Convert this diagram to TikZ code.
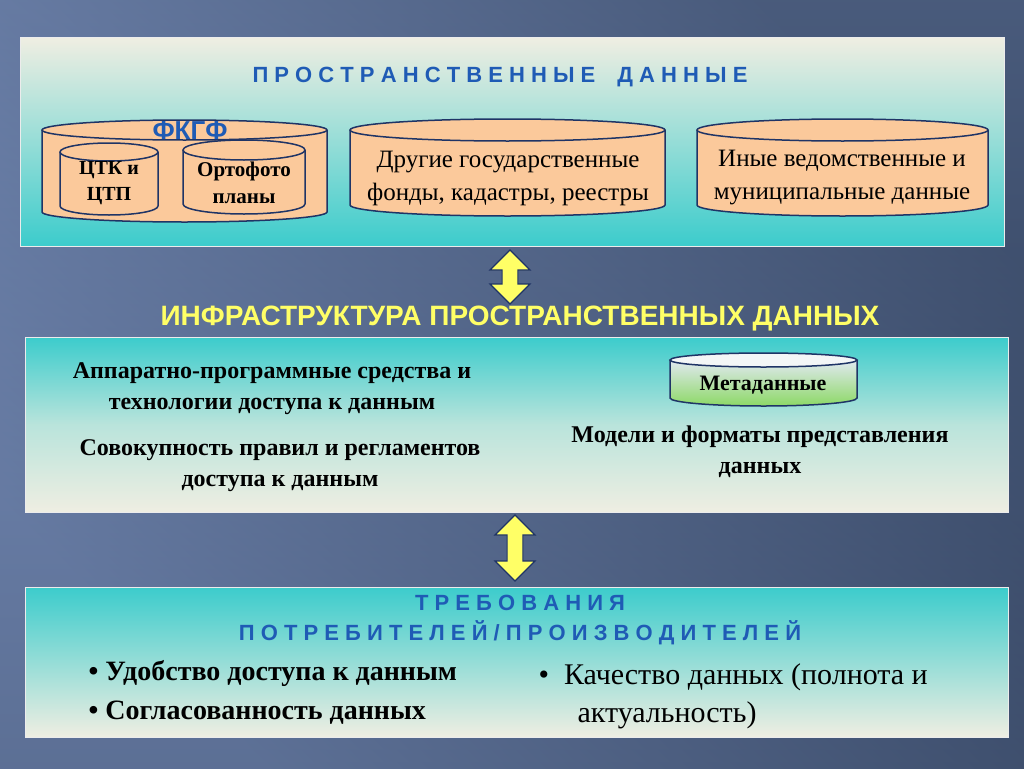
\documentclass[tikz,border=0pt]{standalone}
\usepackage{fontspec}
\setmainfont{Liberation Serif}
\newfontfamily\sans{Liberation Sans}
\usetikzlibrary{shapes.arrows}
\definecolor{bgA}{HTML}{8DA5D6}\definecolor{bgB}{HTML}{2C3B55}
\definecolor{cyanP}{HTML}{3CCCCC}\definecolor{beige}{HTML}{EFEEE2}
\definecolor{peach}{HTML}{FBC99B}\definecolor{edge}{HTML}{1F3466}
\definecolor{ttl}{HTML}{1F5BB5}\definecolor{ylw}{HTML}{FFFF66}
\tikzset{
 panel/.style={draw=white!85!gray,line width=1pt},
 t/.style={align=center},
 tb/.style={align=center,font=\fontsize{22}{28}\selectfont\bfseries},
 dbl/.style={double arrow,draw=edge,line width=1.2pt,fill=ylw,minimum height=54pt,minimum width=40pt,double arrow head extend=4pt,inner sep=2pt,rotate=90}
}
\newcommand{\cyl}[6]{% x1,x2,ytop,ybot,ry,name
 \fill[#6] (#1,#3) -- (#1,#4) arc[start angle=180,end angle=0,x radius={(#2-#1)/2},y radius=#5] -- (#2,#3) -- cycle;
 \draw[edge,line width=1.5pt] (#1,#3) -- (#1,#4) arc[start angle=180,end angle=0,x radius={(#2-#1)/2},y radius=#5] -- (#2,#3);
 \draw[edge,line width=1.5pt,fill=peach] ({(#1+#2)/2},#3) ellipse[x radius={(#2-#1)/2},y radius=#5];
}
\begin{document}
\begin{tikzpicture}[x=1pt,y=-1pt]
\useasboundingbox (0,0) rectangle (1024,768);
\shade[left color=bgA,right color=bgB,shading angle=135] (0,0) rectangle (1024,768);
\shade[top color=bgA!60!bgB,bottom color=bgB,opacity=0.5] (0,0) rectangle (1024,768);
% panels
\shade[top color=beige,bottom color=cyanP] (20,38) rectangle (1004,246);
\draw[panel] (20,38) rectangle (1004,246);
\shade[top color=cyanP,bottom color=beige,middle color=beige!70!cyanP] (25,337) rectangle (1008,512);
\draw[panel] (25,337) rectangle (1008,512);
\shade[top color=cyanP,bottom color=beige] (25,587) rectangle (1008,737);
\draw[panel] (25,587) rectangle (1008,737);
\node[font=\sans\bfseries\fontsize{22}{26}\selectfont,text=ttl] (title) at (500,77) {П\;Р\;О\;С\;Т\;Р\;А\;Н\;С\;Т\;В\;Е\;Н\;Н\;Ы\;Е\quad Д\;А\;Н\;Н\;Ы\;Е};
% cylinders
\cyl{42}{327}{130}{212}{10}{fill=peach}
\node[font=\sans\bfseries\fontsize{26}{28}\selectfont,text=ttl] (fkgf) at (190,131) {ФКГФ};
\cyl{60}{158}{152}{206}{9}{fill=peach}
\node[tb,font=\fontsize{20}{26}\selectfont\bfseries] (ctk) at (109,183) {ЦТК и\\ЦТП};
\cyl{183}{305}{150}{204}{10}{fill=peach}
\node[tb,font=\fontsize{21}{27}\selectfont\bfseries] (orto) at (244,183) {Ортофото\\планы};
\cyl{350}{665}{130}{205}{11}{fill=peach}
\node[t,font=\fontsize{25}{33}\selectfont] (drug) at (508,178) {Другие государственные\\фонды, кадастры, реестры};
\cyl{697}{988}{130}{205}{11}{fill=peach}
\node[t,font=\fontsize{25}{33}\selectfont] (inye) at (842,178) {Иные ведомственные и\\муниципальные данные};
% arrows
\node[dbl] (a1) at (510,277) {};
\node[dbl,minimum height=66pt] (a2) at (515,548) {};
\node[font=\sans\bfseries\fontsize{28}{32}\selectfont,text=ylw] (isd) at (520,319) {ИНФРАСТРУКТУРА ПРОСТРАНСТВЕННЫХ ДАННЫХ};
% middle
\shade[top color=beige!60!ttl!30,bottom color=green!50!olive!60] (670,360) rectangle (857,398) arc[start angle=0,end angle=180,x radius=93.5,y radius=8] -- cycle;
\draw[edge,line width=1.5pt] (670,360) -- (670,398) arc[start angle=180,end angle=0,x radius=93.5,y radius=8] -- (857,360);
\draw[edge,line width=1.5pt,fill=beige!80!ttl!20] (763.5,360) ellipse[x radius=93.5,y radius=7];
\node[tb] (meta) at (763,385) {Метаданные};
\node[tb,font=\fontsize{24}{31}\selectfont\bfseries] (app) at (272,389) {Аппаратно-программные средства и\\технологии доступа к данным};
\node[tb,font=\fontsize{24}{31}\selectfont\bfseries] (sov) at (280,466) {Совокупность правил и регламентов\\доступа к данным};
\node[tb,font=\fontsize{24}{31}\selectfont\bfseries] (mod) at (760,452) {Модели и форматы представления\\данных};
% bottom
\node[font=\sans\bfseries\fontsize{22}{30}\selectfont,text=ttl,align=center] (treb) at (520,620) {Т\;Р\;Е\;Б\;О\;В\;А\;Н\;И\;Я\\П\;О\;Т\;Р\;Е\;Б\;И\;Т\;Е\;Л\;Е\;Й\;/\;П\;Р\;О\;И\;З\;В\;О\;Д\;И\;Т\;Е\;Л\;Е\;Й};
\node[anchor=west,font=\fontsize{28}{32}\selectfont\bfseries] (b1) at (85,673) {•\ Удобство доступа к данным};
\node[anchor=west,font=\fontsize{28}{32}\selectfont\bfseries] (b2) at (85,713) {•\ Согласованность данных};
\node[anchor=west,font=\fontsize{30}{38}\selectfont,align=left] (b3) at (535,696) {•\ \ Качество данных (полнота и\\\hspace*{1.3em}актуальность)};
\end{tikzpicture}
\end{document}
